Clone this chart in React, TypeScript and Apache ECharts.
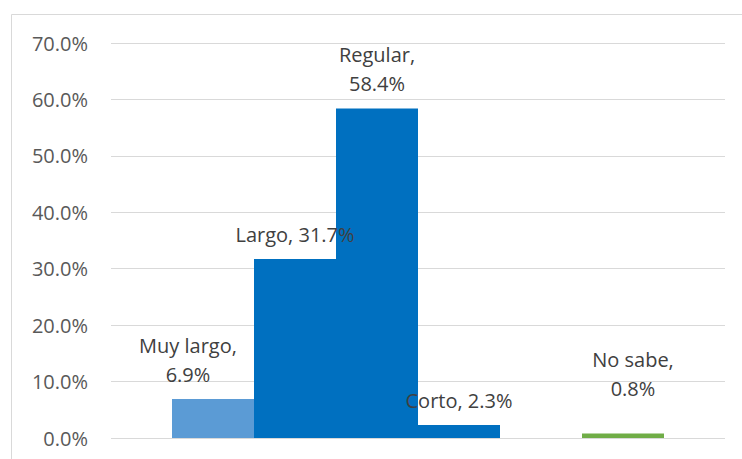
import React, { useEffect, useRef } from "react";
import * as echarts from "echarts";

// Data
const categories = ["Muy largo", "Largo", "Regular", "Corto", "", "No sabe"];
const values: (number | null)[] = [6.9, 31.7, 58.4, 2.3, null, 0.8];
const yTicks = [0, 10, 20, 30, 40, 50, 60, 70];

// Presentation
const barColors = ["#5B9BD5", "#0070C0", "#0070C0", "#0070C0", "#0070C0", "#70AD47"];
const labelBreaks = [true, false, true, false, false, true];
const labelOffsets: [number, number][] = [[-25, 0], [0, 0], [0, 0], [0, 0], [0, 0], [10, -20]];

const FONT = "'Open Sans', 'DejaVu Sans', sans-serif";

export default function App() {
  const ref = useRef<HTMLDivElement>(null);
  useEffect(() => {
    if (!ref.current) return;
    const chart = echarts.init(ref.current, null, { renderer: "svg" });
    const yMin = yTicks[0];
    const yMax = yTicks[yTicks.length - 1];
    const yInterval = yTicks[1] - yTicks[0];
    const data = values.map((v, i) => ({
      value: v,
      itemStyle: { color: barColors[i] },
      label: {
        offset: labelOffsets[i],
        formatter: v == null ? "" : `${categories[i]},${labelBreaks[i] ? "\n" : " "}${v.toFixed(1)}%`,
      },
    }));
    chart.setOption({
      animation: false,
      graphic: [
        {
          type: "rect",
          shape: { x: 11.5, y: 14.5, width: 740, height: 460 },
          style: { fill: "none", stroke: "#D9D9D9", lineWidth: 1 },
          silent: true,
        },
      ],
      grid: [
        { left: 111, right: 17, top: 43, bottom: 21 },
        { left: 172, right: 78, top: 43, bottom: 21 },
      ],
      xAxis: [
        { type: "category", gridIndex: 0, data: [""], show: false },
        { type: "category", gridIndex: 1, data: categories, show: false },
      ],
      yAxis: [
        {
          type: "value",
          gridIndex: 0,
          min: yMin,
          max: yMax,
          interval: yInterval,
          axisLine: { show: false },
          axisTick: { show: false },
          splitLine: { lineStyle: { color: "#D9D9D9", width: 1 } },
          axisLabel: {
            formatter: (v: number) => `${v.toFixed(1)}%`,
            color: "#595959",
            fontSize: 20,
            fontFamily: FONT,
            margin: 23,
          },
        },
        {
          type: "value",
          gridIndex: 1,
          min: yMin,
          max: yMax,
          interval: yInterval,
          show: false,
          splitLine: { show: false },
        },
      ],
      series: [
        {
          type: "bar",
          xAxisIndex: 1,
          yAxisIndex: 1,
          barWidth: "100%",
          barCategoryGap: "0%",
          data,
          label: {
            show: true,
            position: "top",
            distance: 10,
            color: "#404040",
            fontSize: 20,
            lineHeight: 29,
            fontFamily: FONT,
          },
        },
      ],
    });
    return () => chart.dispose();
  }, []);
  return (
    <div
      ref={ref}
      style={{ position: "absolute", left: 0, top: 0, width: 742, height: 459, background: "#fff" }}
    />
  );
}
